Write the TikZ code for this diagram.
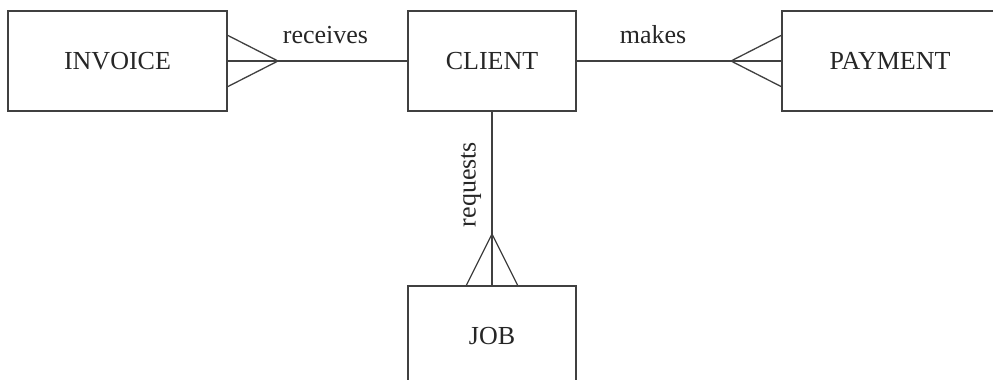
\documentclass[tikz,border=0pt]{standalone}
\usepackage{fontspec}
\setmainfont{Liberation Serif}
\begin{document}
\begin{tikzpicture}[x=1pt,y=-1pt,
  line width=1.3pt, draw={black!75},
  entity/.style={draw, rectangle, inner sep=0pt, outer sep=0pt,
    font=\fontsize{26}{30}\selectfont, text=black!85},
  rel/.style={font=\fontsize{26}{30}\selectfont, inner sep=0pt, text=black!85}]
\useasboundingbox (0,0) rectangle (993,380);
\clip (0,0) rectangle (993,380);

% entities
\node[entity, minimum width=219pt, minimum height=100pt] (inv) at (117.5,61) {INVOICE};
\node[entity, minimum width=168pt, minimum height=100pt] (cli) at (492,61) {CLIENT};
\node[entity, minimum width=216pt, minimum height=100pt] (pay) at (890,61) {PAYMENT};
\node[entity, minimum width=168pt, minimum height=100pt] (job) at (492,336) {JOB};

% crow's foot apexes
\coordinate (invapex) at (278,61);
\coordinate (payapex) at (731,61);
\coordinate (jobapex) at (492,234);

% relationships
\draw (inv.east) -- (cli.west);
\draw ([yshift=26pt]inv.east) -- (invapex) -- ([yshift=-26pt]inv.east);

\draw (cli.east) -- (pay.west);
\draw ([yshift=26pt]pay.west) -- (payapex) -- ([yshift=-26pt]pay.west);

\draw (cli.south) -- (job.north);
\draw ([xshift=-26pt]job.north) -- (jobapex) -- ([xshift=26pt]job.north);

% relationship labels
\node[rel, anchor=base] (lrec) at (325.5,43) {receives};
\node[rel, anchor=base] (lmak) at (653,43) {makes};
\node[rel, rotate=90] (lreq) at (471,184.5) {requests};
\end{tikzpicture}
\end{document}
